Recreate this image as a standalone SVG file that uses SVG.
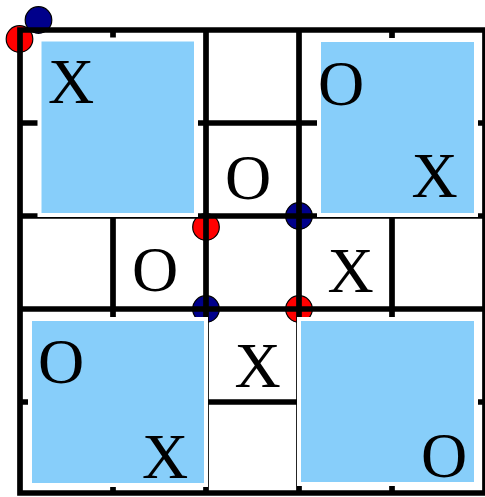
<svg xmlns="http://www.w3.org/2000/svg" width="485" height="497" viewBox="0 0 485 497">
<style>
.bg{fill:#ffffff}
.grid{stroke:#000;stroke-width:5.7;fill:none;stroke-linecap:square}
.blk{fill:#87cefa;stroke:#ffffff;stroke-width:4}
.t{font-family:"Liberation Serif","Times New Roman",serif;font-size:64px;fill:#000;text-anchor:middle}
.r{fill:#ff0000;stroke:#000;stroke-width:1.2}
.b{fill:#00008b;stroke:#000;stroke-width:1.2}
</style>
<rect class="bg" x="0" y="0" width="485" height="497"/>
<g id="markers">
<circle class="b" cx="38.5" cy="20" r="13.3"/>
<circle class="r" cx="19.5" cy="39" r="13.3"/>
<circle class="r" cx="206" cy="227" r="13.3"/>
<circle class="b" cx="299" cy="216" r="13.3"/>
<circle class="b" cx="206" cy="309" r="13.3"/>
<circle class="r" cx="299" cy="309" r="13.3"/>
</g>
<g id="connectors">
<path class="grid" d="M20 30V493M113 30V493M206 30V493M299 30V493M392 30V493M485 30V493M20 30H485M20 123H485M20 216H485M20 309H485M20 402H485M20 493H485"/>
</g>
<g id="block-tl"><rect class="blk" x="39.5" y="39.5" width="156.5" height="175.5"/><text class="t" x="71" y="103">X</text></g>
<g id="block-tr"><rect class="blk" x="319" y="40" width="157" height="175"/><text class="t" x="341" y="105">O</text><text class="t" x="434.5" y="197">X</text></g>
<g id="block-bl"><rect class="blk" x="30" y="319" width="176" height="166"/><text class="t" x="61" y="383">O</text><text class="t" x="165" y="478">X</text></g>
<g id="block-br"><rect class="blk" x="299" y="319" width="177" height="165"/><text class="t" x="444" y="477">O</text></g>
<g id="cell-tc"><text class="t" x="248" y="199">O</text></g>
<g id="cell-ml"><text class="t" x="155" y="291">O</text></g>
<g id="cell-mr"><text class="t" x="350.5" y="292">X</text></g>
<g id="cell-bc"><text class="t" x="257.5" y="387">X</text></g>
</svg>
